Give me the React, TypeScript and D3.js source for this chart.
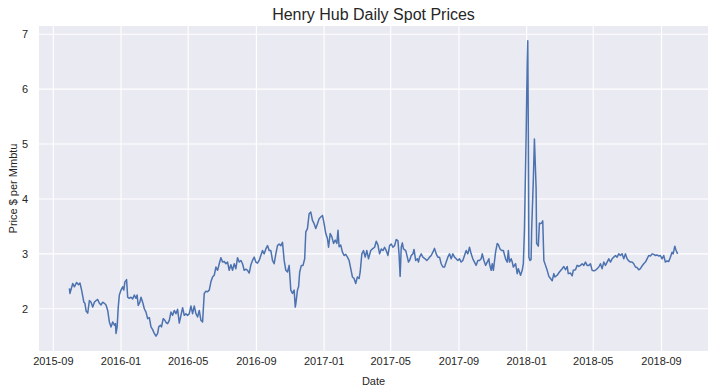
import React from 'react';
import * as d3 from 'd3';

// Henry Hub spot price readings ($/MMBtu)
const dates2015 = [
  '2015-09-30', '2015-10-01', '2015-10-06', '2015-10-09', '2015-10-13', '2015-10-16', '2015-10-19',
  '2015-10-22', '2015-10-26', '2015-10-28', '2015-10-30', '2015-11-02', '2015-11-05', '2015-11-08',
  '2015-11-11', '2015-11-14', '2015-11-17', '2015-11-20', '2015-11-23', '2015-11-26', '2015-11-29',
  '2015-12-02', '2015-12-05', '2015-12-08', '2015-12-11', '2015-12-14', '2015-12-17', '2015-12-20',
  '2015-12-22', '2015-12-23', '2015-12-25', '2015-12-27', '2015-12-29',
];
const prices2015 = [
  2.37, 2.28, 2.46, 2.40, 2.48, 2.44, 2.47,
  2.34, 2.12, 2.10, 1.96, 1.92, 2.15, 2.12,
  2.03, 2.12, 2.15, 2.17, 2.10, 2.07, 2.12,
  2.10, 2.07, 1.97, 1.76, 1.67, 1.76, 1.70,
  1.73, 1.55, 1.67, 2.03, 2.25,
];

const dates2016 = [
  '2016-01-01', '2016-01-04', '2016-01-06', '2016-01-08', '2016-01-11', '2016-01-13', '2016-01-16',
  '2016-01-19', '2016-01-22', '2016-01-25', '2016-01-28', '2016-01-30', '2016-02-01', '2016-02-04',
  '2016-02-06', '2016-02-09', '2016-02-12', '2016-02-15', '2016-02-18', '2016-02-21', '2016-02-24',
  '2016-02-27', '2016-03-01', '2016-03-04', '2016-03-07', '2016-03-09', '2016-03-12', '2016-03-14',
  '2016-03-17', '2016-03-20', '2016-03-23', '2016-03-25', '2016-03-28', '2016-03-31', '2016-04-03',
  '2016-04-06', '2016-04-09', '2016-04-12', '2016-04-15', '2016-04-18', '2016-04-21', '2016-04-24',
  '2016-04-27', '2016-04-30', '2016-05-03', '2016-05-06', '2016-05-09', '2016-05-12', '2016-05-15',
  '2016-05-18', '2016-05-21', '2016-05-24', '2016-05-27', '2016-05-30', '2016-06-02', '2016-06-05',
  '2016-06-08', '2016-06-11', '2016-06-14', '2016-06-17', '2016-06-20', '2016-06-23', '2016-06-26',
  '2016-06-29', '2016-07-02', '2016-07-05', '2016-07-08', '2016-07-11', '2016-07-14', '2016-07-17',
  '2016-07-20', '2016-07-23', '2016-07-26', '2016-07-29', '2016-08-01', '2016-08-04', '2016-08-07',
  '2016-08-10', '2016-08-13', '2016-08-16', '2016-08-19', '2016-08-22', '2016-08-25', '2016-08-28',
  '2016-08-31', '2016-09-03', '2016-09-06', '2016-09-09', '2016-09-12', '2016-09-15', '2016-09-18',
  '2016-09-21', '2016-09-24', '2016-09-27', '2016-09-30', '2016-10-03', '2016-10-06', '2016-10-09',
  '2016-10-12', '2016-10-15', '2016-10-18', '2016-10-21', '2016-10-24', '2016-10-27', '2016-10-30',
  '2016-11-02', '2016-11-05', '2016-11-08', '2016-11-10', '2016-11-11', '2016-11-14', '2016-11-16',
  '2016-11-18', '2016-11-21', '2016-11-24', '2016-11-27', '2016-11-29', '2016-12-02', '2016-12-05',
  '2016-12-08', '2016-12-11', '2016-12-14', '2016-12-17', '2016-12-20', '2016-12-23', '2016-12-26',
  '2016-12-29',
];
const prices2016 = [
  2.34, 2.40, 2.34, 2.49, 2.53, 2.21, 2.19,
  2.21, 2.18, 2.25, 2.19, 2.25, 2.06, 2.12,
  2.21, 2.12, 2.00, 1.94, 1.82, 1.84, 1.67,
  1.62, 1.55, 1.50, 1.55, 1.67, 1.70, 1.67,
  1.82, 1.79, 1.74, 1.73, 1.79, 1.94, 1.88,
  1.97, 1.91, 1.99, 1.74, 1.88, 2.02, 1.88,
  1.91, 1.88, 1.91, 2.05, 1.91, 2.05, 1.91,
  1.85, 1.97, 1.79, 1.76, 2.28, 2.32, 2.31,
  2.34, 2.49, 2.58, 2.61, 2.76, 2.70, 2.82,
  2.93, 2.85, 2.86, 2.82, 2.85, 2.70, 2.80,
  2.70, 2.82, 2.73, 2.93, 2.85, 2.88, 2.82,
  2.70, 2.72, 2.70, 2.65, 2.80, 2.88, 2.94,
  2.85, 2.83, 2.88, 2.97, 3.06, 3.00, 3.09,
  3.15, 3.06, 3.06, 2.88, 2.82, 3.00, 3.15,
  3.18, 3.15, 3.21, 2.88, 2.70, 2.67, 2.79,
  2.34, 2.28, 2.34, 2.03, 2.09, 2.34, 2.40,
  2.67, 2.79, 2.79, 2.91, 3.40, 3.46, 3.73,
  3.76, 3.61, 3.55, 3.46, 3.55, 3.64, 3.67,
  3.70,
];

const dates2017 = [
  '2017-01-01', '2017-01-04', '2017-01-07', '2017-01-09', '2017-01-12', '2017-01-15', '2017-01-18',
  '2017-01-21', '2017-01-24', '2017-01-26', '2017-01-28', '2017-01-31', '2017-02-03', '2017-02-06',
  '2017-02-09', '2017-02-12', '2017-02-15', '2017-02-18', '2017-02-21', '2017-02-24', '2017-02-27',
  '2017-03-02', '2017-03-05', '2017-03-07', '2017-03-10', '2017-03-13', '2017-03-16', '2017-03-19',
  '2017-03-22', '2017-03-26', '2017-03-29', '2017-04-02', '2017-04-05', '2017-04-08', '2017-04-11',
  '2017-04-14', '2017-04-17', '2017-04-20', '2017-04-23', '2017-04-26', '2017-04-29', '2017-05-02',
  '2017-05-05', '2017-05-08', '2017-05-11', '2017-05-14', '2017-05-16', '2017-05-18', '2017-05-20',
  '2017-05-22', '2017-05-24', '2017-05-28', '2017-05-31', '2017-06-02', '2017-06-04', '2017-06-07',
  '2017-06-10', '2017-06-12', '2017-06-15', '2017-06-18', '2017-06-20', '2017-06-22', '2017-06-25',
  '2017-06-28', '2017-07-02', '2017-07-05', '2017-07-08', '2017-07-10', '2017-07-13', '2017-07-16',
  '2017-07-19', '2017-07-22', '2017-07-25', '2017-07-28', '2017-07-31', '2017-08-03', '2017-08-06',
  '2017-08-09', '2017-08-12', '2017-08-15', '2017-08-18', '2017-08-21', '2017-08-24', '2017-08-27',
  '2017-08-30', '2017-09-02', '2017-09-05', '2017-09-08', '2017-09-11', '2017-09-14', '2017-09-17',
  '2017-09-20', '2017-09-23', '2017-09-26', '2017-09-29', '2017-10-02', '2017-10-05', '2017-10-08',
  '2017-10-11', '2017-10-13', '2017-10-16', '2017-10-19', '2017-10-22', '2017-10-25', '2017-10-26',
  '2017-10-29', '2017-10-31', '2017-11-02', '2017-11-06', '2017-11-09', '2017-11-11', '2017-11-14',
  '2017-11-17', '2017-11-20', '2017-11-24', '2017-11-27', '2017-11-29', '2017-12-01', '2017-12-04',
  '2017-12-06', '2017-12-08', '2017-12-12', '2017-12-15', '2017-12-17', '2017-12-21', '2017-12-24',
  '2017-12-26', '2017-12-28', '2017-12-31',
];
const prices2017 = [
  3.55, 3.37, 3.28, 3.12, 3.37, 3.31, 3.19,
  3.25, 3.19, 3.43, 3.13, 3.16, 3.03, 2.97,
  2.99, 2.94, 2.88, 2.73, 2.58, 2.55, 2.46,
  2.58, 2.55, 2.67, 3.00, 3.06, 2.94, 3.06,
  2.91, 3.06, 3.09, 3.12, 3.23, 3.16, 3.00,
  3.09, 3.06, 3.12, 3.06, 2.97, 3.15, 3.18,
  3.12, 3.15, 3.26, 3.24, 3.00, 2.59, 3.12,
  3.20, 3.09, 3.06, 2.94, 2.85, 2.88, 2.97,
  3.00, 3.08, 2.88, 2.91, 2.85, 2.94, 3.00,
  2.94, 2.91, 2.88, 2.91, 2.94, 2.97, 3.03,
  3.10, 3.00, 2.94, 2.94, 2.82, 2.76, 2.76,
  2.85, 2.94, 3.00, 2.91, 3.00, 2.94, 2.91,
  2.88, 2.91, 2.85, 2.88, 2.97, 3.06, 3.00,
  3.12, 3.00, 2.91, 2.85, 2.79, 2.88, 2.88,
  2.91, 3.00, 2.88, 2.79, 2.85, 2.91, 2.82,
  2.70, 2.82, 2.70, 3.03, 3.19, 3.17, 3.09,
  3.06, 3.06, 2.91, 2.85, 3.06, 2.85, 2.91,
  2.85, 2.76, 2.82, 2.64, 2.73, 2.61, 2.70,
  2.82, 3.43, 5.12,
];

const dates2018 = [
  '2018-01-02', '2018-01-03', '2018-01-04', '2018-01-05', '2018-01-07', '2018-01-09', '2018-01-10',
  '2018-01-13', '2018-01-15', '2018-01-18', '2018-01-19', '2018-01-22', '2018-01-24', '2018-01-26',
  '2018-01-28', '2018-01-30', '2018-02-01', '2018-02-04', '2018-02-07', '2018-02-10', '2018-02-13',
  '2018-02-16', '2018-02-19', '2018-02-21', '2018-02-25', '2018-03-01', '2018-03-06', '2018-03-09',
  '2018-03-12', '2018-03-15', '2018-03-17', '2018-03-21', '2018-03-24', '2018-03-26', '2018-03-30',
  '2018-04-02', '2018-04-05', '2018-04-08', '2018-04-11', '2018-04-14', '2018-04-17', '2018-04-20',
  '2018-04-23', '2018-04-26', '2018-04-29', '2018-05-02', '2018-05-05', '2018-05-08', '2018-05-11',
  '2018-05-14', '2018-05-17', '2018-05-20', '2018-05-23', '2018-05-26', '2018-05-29', '2018-06-01',
  '2018-06-04', '2018-06-07', '2018-06-10', '2018-06-13', '2018-06-16', '2018-06-19', '2018-06-22',
  '2018-06-25', '2018-06-28', '2018-07-01', '2018-07-04', '2018-07-07', '2018-07-10', '2018-07-13',
  '2018-07-16', '2018-07-19', '2018-07-22', '2018-07-25', '2018-07-28', '2018-07-31', '2018-08-03',
  '2018-08-06', '2018-08-09', '2018-08-12', '2018-08-15', '2018-08-18', '2018-08-21', '2018-08-24',
  '2018-08-27', '2018-08-30', '2018-09-02', '2018-09-05', '2018-09-08', '2018-09-11', '2018-09-14',
  '2018-09-17', '2018-09-20', '2018-09-22', '2018-09-25', '2018-09-27', '2018-09-30',
];
const prices2018 = [
  6.46, 6.88, 5.24, 2.94, 2.88, 2.90, 3.43,
  4.34, 5.09, 4.21, 3.19, 3.14, 3.56, 3.55,
  3.56, 3.60, 2.88, 2.79, 2.70, 2.59, 2.55,
  2.51, 2.64, 2.58, 2.61, 2.67, 2.73, 2.77,
  2.71, 2.77, 2.64, 2.65, 2.60, 2.70, 2.71,
  2.79, 2.77, 2.79, 2.82, 2.79, 2.85, 2.79,
  2.79, 2.82, 2.70, 2.69, 2.70, 2.73, 2.76,
  2.82, 2.73, 2.85, 2.79, 2.85, 2.91, 2.85,
  2.91, 2.94, 2.97, 2.94, 3.00, 2.97, 3.00,
  2.91, 3.00, 2.91, 2.87, 2.85, 2.85, 2.82,
  2.76, 2.75, 2.71, 2.73, 2.78, 2.82, 2.85,
  2.91, 2.97, 2.96, 3.00, 2.99, 2.97, 2.98,
  2.96, 2.97, 2.91, 2.97, 2.85, 2.87, 2.86,
  2.94, 3.03, 3.00, 3.14, 3.07, 3.00,
];

const yTickValues = [2, 3, 4, 5, 6, 7];
const title = 'Henry Hub Daily Spot Prices';
const xLabel = 'Date';
const yLabel = 'Price $ per Mmbtu';

const parseDate = d3.timeParse('%Y-%m-%d');
const formatTick = d3.timeFormat('%Y-%m');

const App = () => {
  const width = 720;
  const height = 392;
  const margin = { top: 26, right: 12, bottom: 41, left: 39 };
  const left = margin.left;
  const right = width - margin.right;
  const top = margin.top;
  const bottom = height - margin.bottom;

  const dates = [...dates2015, ...dates2016, ...dates2017, ...dates2018];
  const prices = [...prices2015, ...prices2016, ...prices2017, ...prices2018];
  const data = dates.map((d, i) => ({ date: parseDate(d) as Date, price: prices[i] }));

  // matplotlib-style 5% margins around the data
  const [d0, d1] = d3.extent(data, (d) => d.date) as [Date, Date];
  const xPad = (d1.getTime() - d0.getTime()) * 0.05;
  const x = d3
    .scaleTime()
    .domain([new Date(d0.getTime() - xPad), new Date(d1.getTime() + xPad)])
    .range([left, right]);

  const [p0, p1] = d3.extent(prices) as [number, number];
  const yPad = (p1 - p0) * 0.05;
  const y = d3.scaleLinear().domain([p0 - yPad, p1 + yPad]).range([bottom, top]);

  const xTicks = x.ticks(d3.timeMonth.every(4) as d3.TimeInterval);

  const line = d3
    .line<{ date: Date; price: number }>()
    .x((d) => x(d.date))
    .y((d) => y(d.price));

  const font = '"Liberation Sans", Arial, sans-serif';
  const textColor = '#262626';

  return (
    <svg
      width={width}
      height={height}
      style={{ position: 'absolute', left: 0, top: 0, display: 'block', background: '#fff' }}
      fontFamily={font}
    >
      <rect x={left} y={top} width={right - left} height={bottom - top} fill="#eaeaf2" />
      {xTicks.map((t) => (
        <line key={'gx' + t.getTime()} x1={x(t)} x2={x(t)} y1={top} y2={bottom} stroke="#fff" strokeWidth={1.1} />
      ))}
      {yTickValues.map((v) => (
        <line key={'gy' + v} x1={left} x2={right} y1={y(v)} y2={y(v)} stroke="#fff" strokeWidth={1.1} />
      ))}
      <path d={line(data) || ''} fill="none" stroke="#4c72b0" strokeWidth={1.5} strokeLinejoin="round" />
      {xTicks.map((t) => (
        <text key={'tx' + t.getTime()} x={x(t)} y={bottom + 14} textAnchor="middle" fontSize={11} fill={textColor}>
          {formatTick(t)}
        </text>
      ))}
      {yTickValues.map((v) => (
        <text key={'ty' + v} x={left - 11} y={y(v) + 4} textAnchor="end" fontSize={11} fill={textColor}>
          {v}
        </text>
      ))}
      <text x={(left + right) / 2} y={top - 6} textAnchor="middle" fontSize={16} fill={textColor}>
        {title}
      </text>
      <text x={(left + right) / 2} y={bottom + 34} textAnchor="middle" fontSize={11} fill={textColor}>
        {xLabel}
      </text>
      <text
        transform={`translate(17, ${(top + bottom) / 2}) rotate(-90)`}
        textAnchor="middle"
        fontSize={11}
        fill={textColor}
      >
        {yLabel}
      </text>
    </svg>
  );
};

export default App;
